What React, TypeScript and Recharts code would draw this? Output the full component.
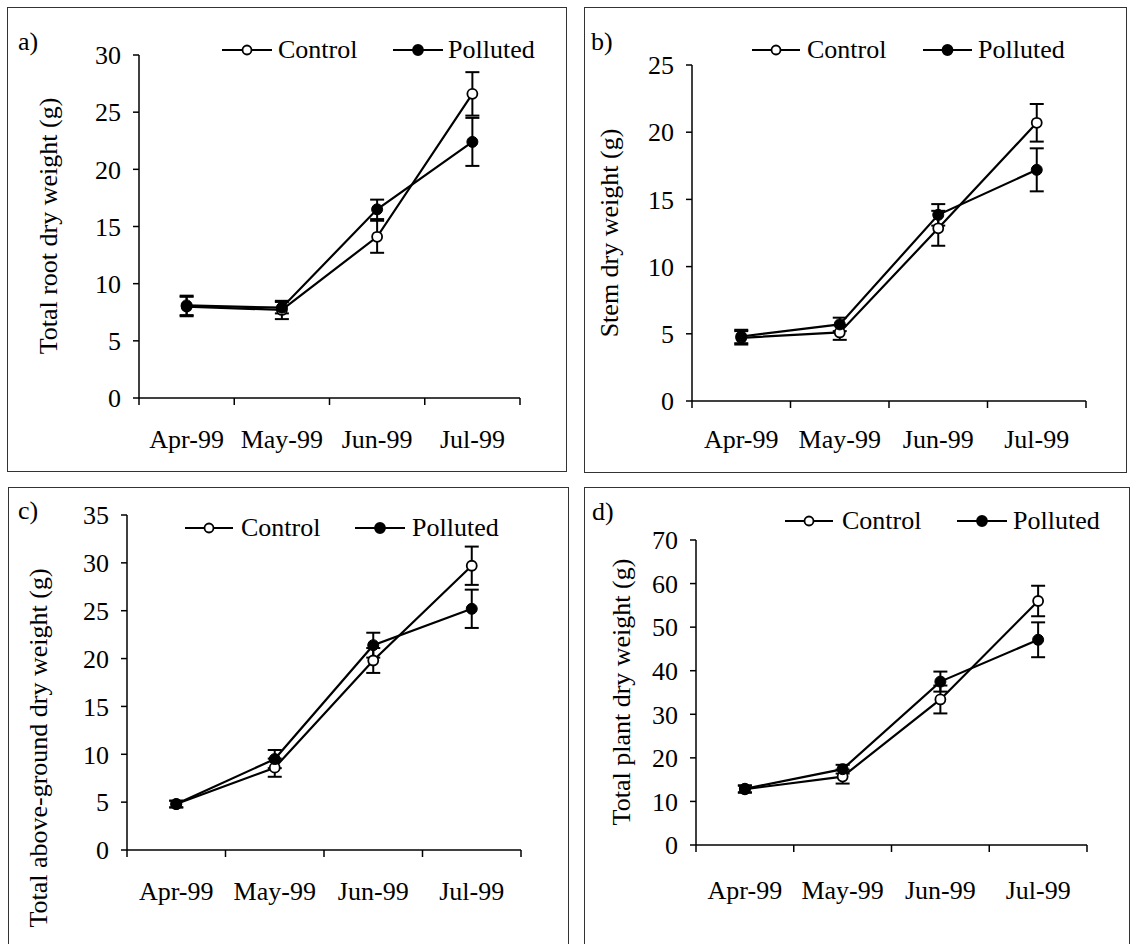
import React from 'react';
import { LineChart, Line, XAxis, YAxis, ErrorBar } from 'recharts';

const months = ['Apr-99', 'May-99', 'Jun-99', 'Jul-99'];
const seriesNames = ['Control', 'Polluted'];

// a) Total root dry weight
const rootControl = [8.0, 7.7, 14.1, 26.6];
const rootControlErr = [0.85, 0.8, 1.4, 1.9];
const rootPolluted = [8.1, 7.9, 16.5, 22.4];
const rootPollutedErr = [0.85, 0.5, 0.85, 2.1];
const rootTicks = [0, 5, 10, 15, 20, 25, 30];

// b) Stem dry weight
const stemControl = [4.7, 5.1, 12.85, 20.7];
const stemControlErr = [0.5, 0.55, 1.3, 1.4];
const stemPolluted = [4.8, 5.7, 13.85, 17.2];
const stemPollutedErr = [0.5, 0.5, 0.8, 1.6];
const stemTicks = [0, 5, 10, 15, 20, 25];

// c) Total above-ground dry weight
const aboveControl = [4.8, 8.6, 19.8, 29.7];
const aboveControlErr = [0.35, 0.95, 1.3, 2.0];
const abovePolluted = [4.8, 9.5, 21.4, 25.2];
const abovePollutedErr = [0.35, 0.95, 1.3, 2.0];
const aboveTicks = [0, 5, 10, 15, 20, 25, 30, 35];

// d) Total plant dry weight
const plantControl = [12.8, 15.7, 33.4, 56.0];
const plantControlErr = [0.8, 1.6, 3.2, 3.5];
const plantPolluted = [12.9, 17.4, 37.5, 47.1];
const plantPollutedErr = [0.8, 1.0, 2.3, 4.0];
const plantTicks = [0, 10, 20, 30, 40, 50, 60, 70];

const FONT = '"Liberation Serif", "Times New Roman", serif';
const FS = 26;
const Y_AXIS_W = 60;
const X_AXIS_H = 70;

type Box = { l: number; t: number; r: number; b: number };
type Panel = {
  letter: string;
  ylabel: string;
  control: number[];
  controlErr: number[];
  polluted: number[];
  pollutedErr: number[];
  ticks: number[];
  box: Box;
  plot: Box;
  letterPos: { x: number; y: number };
  ylabelPos: { x: number; y: number };
  xLabelOffset: number;
  legend: { ly: number; ty: number; items: { l1: number; l2: number; tx: number }[] };
};

const panels: Panel[] = [
  {
    letter: 'a)', ylabel: 'Total root dry weight (g)',
    control: rootControl, controlErr: rootControlErr, polluted: rootPolluted, pollutedErr: rootPollutedErr, ticks: rootTicks,
    box: { l: 7, t: 7, r: 566, b: 471 }, plot: { l: 139, t: 55, r: 520, b: 398 },
    letterPos: { x: 18, y: 50 }, ylabelPos: { x: 48, y: 226 }, xLabelOffset: 50,
    legend: { ly: 50, ty: 58, items: [{ l1: 222, l2: 272, tx: 278 }, { l1: 393, l2: 443, tx: 448 }] },
  },
  {
    letter: 'b)', ylabel: 'Stem dry weight (g)',
    control: stemControl, controlErr: stemControlErr, polluted: stemPolluted, pollutedErr: stemPollutedErr, ticks: stemTicks,
    box: { l: 584, t: 7, r: 1126, b: 472 }, plot: { l: 692, t: 65, r: 1086, b: 401 },
    letterPos: { x: 591, y: 50 }, ylabelPos: { x: 609, y: 233 }, xLabelOffset: 47,
    legend: { ly: 50, ty: 58, items: [{ l1: 752, l2: 800, tx: 807 }, { l1: 923, l2: 972, tx: 978 }] },
  },
  {
    letter: 'c)', ylabel: 'Total above-ground dry weight (g)',
    control: aboveControl, controlErr: aboveControlErr, polluted: abovePolluted, pollutedErr: abovePollutedErr, ticks: aboveTicks,
    box: { l: 8, t: 487, r: 568, b: 950 }, plot: { l: 127, t: 515, r: 521, b: 850 },
    letterPos: { x: 18, y: 519 }, ylabelPos: { x: 38, y: 748 }, xLabelOffset: 50,
    legend: { ly: 528, ty: 536, items: [{ l1: 185, l2: 233, tx: 241 }, { l1: 355, l2: 405, tx: 412 }] },
  },
  {
    letter: 'd)', ylabel: 'Total plant dry weight (g)',
    control: plantControl, controlErr: plantControlErr, polluted: plantPolluted, pollutedErr: plantPollutedErr, ticks: plantTicks,
    box: { l: 584, t: 487, r: 1129, b: 950 }, plot: { l: 696, t: 540, r: 1087, b: 845 },
    letterPos: { x: 592, y: 520 }, ylabelPos: { x: 621, y: 692 }, xLabelOffset: 54,
    legend: { ly: 521, ty: 529, items: [{ l1: 785, l2: 833, tx: 842 }, { l1: 957, l2: 1007, tx: 1013 }] },
  },
];

const xTicks = [0, 0.5, 1, 1.5, 2, 2.5, 3, 3.5, 4];

function makeXTick(offset: number) {
  return (props: any) => {
    const { x, y, payload } = props;
    const v = payload.value;
    if (Number.isInteger(v)) {
      return <line x1={x} x2={x} y1={y} y2={y + 7} stroke="#000" strokeWidth={1.5} />;
    }
    const label = months[Math.floor(v)];
    return (
      <text x={x} y={y + offset} textAnchor="middle" fontFamily={FONT} fontSize={FS} fill="#000">
        {label}
      </text>
    );
  };
}

function PanelChart({ p }: { p: Panel }) {
  const w = p.box.r - p.box.l;
  const h = p.box.b - p.box.t;
  const data = months.map((m, i) => ({
    x: i + 0.5,
    month: m,
    c: p.control[i],
    ce: p.controlErr[i],
    p: p.polluted[i],
    pe: p.pollutedErr[i],
  }));
  const margin = {
    top: p.plot.t - p.box.t,
    left: p.plot.l - p.box.l - Y_AXIS_W,
    right: p.box.r - p.plot.r,
    bottom: p.box.b - p.plot.b - X_AXIS_H,
  };
  const max = p.ticks[p.ticks.length - 1];
  return (
    <div style={{ position: 'absolute', left: p.box.l, top: p.box.t, width: w, height: h }}>
      <LineChart width={w} height={h} data={data} margin={margin}>
        <XAxis
          type="number"
          dataKey="x"
          domain={[0, 4]}
          ticks={xTicks}
          interval={0}
          tickLine={false}
          tickSize={0}
          tickMargin={0}
          height={X_AXIS_H}
          axisLine={{ stroke: '#000', strokeWidth: 1.5 }}
          tick={makeXTick(p.xLabelOffset)}
        />
        <YAxis
          type="number"
          domain={[0, max]}
          ticks={p.ticks}
          interval={0}
          width={Y_AXIS_W}
          tickSize={6}
          tickMargin={12}
          axisLine={{ stroke: '#000', strokeWidth: 1.5 }}
          tickLine={{ stroke: '#000', strokeWidth: 1.5 }}
          tick={{ fontFamily: FONT, fontSize: FS, fill: '#000' }}
        />
        <Line
          dataKey="c"
          name={seriesNames[0]}
          stroke="#000"
          strokeWidth={2.2}
          dot={{ r: 5, fill: '#fff', stroke: '#000', strokeWidth: 1.8 }}
          isAnimationActive={false}
        >
          <ErrorBar dataKey="ce" direction="y" width={7} strokeWidth={2} stroke="#000" />
        </Line>
        <Line
          dataKey="p"
          name={seriesNames[1]}
          stroke="#000"
          strokeWidth={2.2}
          dot={{ r: 5.5, fill: '#000', stroke: '#000', strokeWidth: 1 }}
          isAnimationActive={false}
        >
          <ErrorBar dataKey="pe" direction="y" width={7} strokeWidth={2} stroke="#000" />
        </Line>
      </LineChart>
    </div>
  );
}

function Overlay() {
  return (
    <svg width={1131} height={944} style={{ position: 'absolute', left: 0, top: 0, pointerEvents: 'none' }}>
      {panels.map((p, pi) => (
        <g key={pi}>
          <rect
            x={p.box.l + 0.5}
            y={p.box.t + 0.5}
            width={p.box.r - p.box.l}
            height={p.box.b - p.box.t}
            fill="none"
            stroke="#333"
            strokeWidth={1}
          />
          <text x={p.letterPos.x} y={p.letterPos.y} fontFamily={FONT} fontSize={FS} fill="#000">
            {p.letter}
          </text>
          <text
            x={p.ylabelPos.x}
            y={p.ylabelPos.y}
            transform={`rotate(-90 ${p.ylabelPos.x} ${p.ylabelPos.y})`}
            textAnchor="middle"
            dominantBaseline="central"
            fontFamily={FONT}
            fontSize={FS}
            fill="#000"
          >
            {p.ylabel}
          </text>
          {p.legend.items.map((it, i) => {
            const cx = (it.l1 + it.l2) / 2;
            return (
              <g key={i}>
                <line x1={it.l1} x2={it.l2} y1={p.legend.ly} y2={p.legend.ly} stroke="#000" strokeWidth={2} />
                <circle
                  cx={cx}
                  cy={p.legend.ly}
                  r={i === 0 ? 4.5 : 5}
                  fill={i === 0 ? '#fff' : '#000'}
                  stroke="#000"
                  strokeWidth={1.8}
                />
                <text x={it.tx} y={p.legend.ty} fontFamily={FONT} fontSize={FS} fill="#000">
                  {seriesNames[i]}
                </text>
              </g>
            );
          })}
        </g>
      ))}
    </svg>
  );
}

export default function App() {
  return (
    <div
      style={{
        position: 'absolute',
        left: 0,
        top: 0,
        width: 1131,
        height: 944,
        overflow: 'hidden',
        background: '#fff',
      }}
    >
      {panels.map((p, i) => (
        <PanelChart key={i} p={p} />
      ))}
      <Overlay />
    </div>
  );
}
